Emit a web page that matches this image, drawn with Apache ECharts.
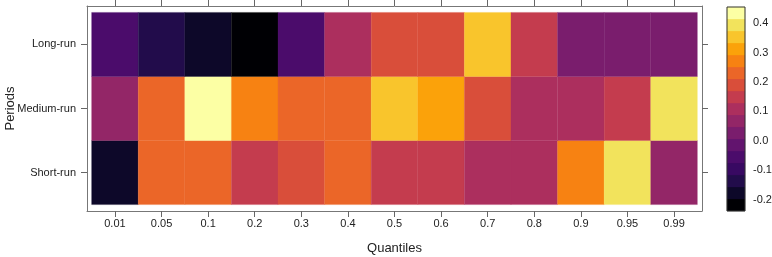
<!DOCTYPE html>
<html>
<head>
<meta charset="utf-8">
<script src="https://cdn.jsdelivr.net/npm/echarts@6/dist/echarts.min.js"></script>
<style>
  html, body { margin: 0; padding: 0; background: #fff; }
  #main { width: 772px; height: 257px; }
</style>
</head>
<body>
<div id="main"></div>
<script>
// quantiles on the x axis, periods on the y axis (bottom to top)
var quantiles = ["0.01", "0.05", "0.1", "0.2", "0.3", "0.4", "0.5", "0.6", "0.7", "0.8", "0.9", "0.95", "0.99"];
var periods = ["Short-run", "Medium-run", "Long-run"];

// values
var shortRun  = [-0.18, 0.23, 0.23, 0.15, 0.19, 0.23, 0.15, 0.15, 0.11, 0.11, 0.27, 0.39, 0.07];
var mediumRun = [0.07, 0.23, 0.44, 0.27, 0.23, 0.23, 0.35, 0.31, 0.19, 0.11, 0.11, 0.15, 0.39];
var longRun   = [-0.05, -0.14, -0.18, -0.22, -0.06, 0.11, 0.19, 0.19, 0.35, 0.15, 0.03, 0.03, 0.03];

// colour key
var keyTicks = [-0.2, -0.1, 0.0, 0.1, 0.2, 0.3, 0.4];
var keyMin = -0.239, keyMax = 0.455, nBins = 17;
var palette = ["#000004", "#0d0829", "#220c4b", "#380962", "#4b0c6b", "#62146e", "#7a1d6d",
  "#932667", "#ac2f5e", "#c43c4e", "#d94e3a", "#eb6628", "#f78212", "#fba20a",
  "#f9c52c", "#f2e35c", "#fcffa4"];

var FONT = "'Liberation Sans Narrow', 'Liberation Sans', Arial, sans-serif";
var AXIS_COL = "#666";

var breaks = [];
for (var b = 0; b <= nBins; b++) breaks.push(keyMin + (keyMax - keyMin) * b / nBins);

var pieces = [];
var keyData = [];
for (var i = 0; i < nBins; i++) {
  pieces.push({ gte: breaks[i], lt: breaks[i + 1], color: palette[i] });
  keyData.push([breaks[i], breaks[i + 1], i]);
}
pieces[nBins - 1].lte = breaks[nBins];
delete pieces[nBins - 1].lt;

var cells = [];
[shortRun, mediumRun, longRun].forEach(function (row, r) {
  row.forEach(function (v, c) { cells.push([c, r, v]); });
});

var xIdx = quantiles.map(function (q, k) { return k; });
var yIdx = periods.map(function (p, k) { return k; });

function tickCfg(vals, len) {
  return { show: true, customValues: vals, length: len || 6, inside: false, lineStyle: { color: AXIS_COL, width: 1 } };
}
var frameLine = { show: true, onZero: false, lineStyle: { color: "#777", width: 1 } };

var option = {
  animation: false,
  backgroundColor: "#fff",
  textStyle: { fontFamily: FONT },
  visualMap: {
    type: "piecewise",
    show: false,
    seriesIndex: 0,
    dimension: 2,
    pieces: pieces
  },
  grid: [
    { left: 87, right: 70, top: 6, bottom: 46, containLabel: false, outerBoundsMode: "none" },
    { left: 727, width: 18, top: 7, height: 204, containLabel: false, outerBoundsMode: "none" }
  ],
  xAxis: [
    {
      gridIndex: 0, type: "value", min: -0.6, max: 12.6, position: "bottom",
      axisLine: frameLine, splitLine: { show: false },
      axisTick: tickCfg(xIdx),
      axisLabel: {
        customValues: xIdx, margin: 7, fontSize: 11, color: "#222", fontFamily: FONT,
        formatter: function (v) { return quantiles[Math.round(v)]; }
      },
      name: "Quantiles", nameLocation: "middle", nameGap: 31, nameMoveOverlap: false,
      nameTextStyle: { fontSize: 13, color: "#222", fontFamily: FONT }
    },
    {
      gridIndex: 0, type: "value", min: -0.6, max: 12.6, position: "top",
      axisLine: frameLine, splitLine: { show: false },
      axisTick: tickCfg(xIdx), axisLabel: { show: false }
    },
    { gridIndex: 1, type: "value", min: 0, max: 1, show: false }
  ],
  yAxis: [
    {
      gridIndex: 0, type: "value", min: -0.6, max: 2.6, position: "left",
      axisLine: frameLine, splitLine: { show: false },
      axisTick: tickCfg(yIdx),
      axisLabel: {
        customValues: yIdx, margin: 11, fontSize: 11, color: "#222", fontFamily: FONT,
        formatter: function (v) { return periods[Math.round(v)]; }
      },
      name: "Periods", nameLocation: "middle", nameGap: 70, nameRotate: 90, nameMoveOverlap: false,
      nameTextStyle: { fontSize: 13, color: "#222", fontFamily: FONT }
    },
    {
      gridIndex: 0, type: "value", min: -0.6, max: 2.6, position: "right",
      axisLine: frameLine, splitLine: { show: false },
      axisTick: tickCfg(yIdx), axisLabel: { show: false }
    },
    {
      gridIndex: 1, type: "value", min: keyMin, max: keyMax, position: "right",
      axisLine: { show: false }, splitLine: { show: false },
      axisTick: tickCfg(keyTicks, 4),
      axisLabel: {
        customValues: keyTicks, margin: 8, fontSize: 11, color: "#222", fontFamily: FONT,
        formatter: function (v) { return (Math.abs(v) < 1e-9 ? 0 : v).toFixed(1); }
      }
    }
  ],
  series: [
    {
      type: "custom",
      xAxisIndex: 0, yAxisIndex: 0,
      data: cells,
      dimensions: ["x", "y", "value"],
      encode: { x: 0, y: 1 },
      renderItem: function (params, api) {
        var x = api.value(0), y = api.value(1);
        var p0 = api.coord([x - 0.5, y + 0.5]);
        var p1 = api.coord([x + 0.5, y - 0.5]);
        var col = api.visual("color");
        return {
          type: "rect",
          shape: { x: p0[0], y: p0[1], width: p1[0] - p0[0], height: p1[1] - p0[1] },
          style: { fill: col, stroke: col, lineWidth: 0.3 }
        };
      }
    },
    {
      type: "custom",
      xAxisIndex: 2, yAxisIndex: 2,
      data: keyData,
      encode: { y: [0, 1] },
      renderItem: function (params, api) {
        var p0 = api.coord([0, api.value(1)]);
        var p1 = api.coord([1, api.value(0)]);
        var col = palette[api.value(2)];
        return {
          type: "rect",
          shape: { x: p0[0], y: p0[1], width: p1[0] - p0[0], height: p1[1] - p0[1] },
          style: { fill: col, stroke: col, lineWidth: 0.3 }
        };
      }
    },
    {
      // frame around the colour key
      type: "custom",
      xAxisIndex: 2, yAxisIndex: 2,
      data: [[keyMin, keyMax]],
      encode: { y: [0, 1] },
      z: 5,
      renderItem: function (params, api) {
        var p0 = api.coord([0, api.value(1)]);
        var p1 = api.coord([1, api.value(0)]);
        return {
          type: "rect",
          shape: { x: p0[0], y: p0[1], width: p1[0] - p0[0], height: p1[1] - p0[1] },
          style: { fill: "none", stroke: "#333", lineWidth: 1 }
        };
      }
    }
  ]
};

var chart = echarts.init(document.getElementById("main"));
chart.setOption(option);
window.addEventListener("resize", function () { chart.resize(); });
</script>
</body>
</html>
